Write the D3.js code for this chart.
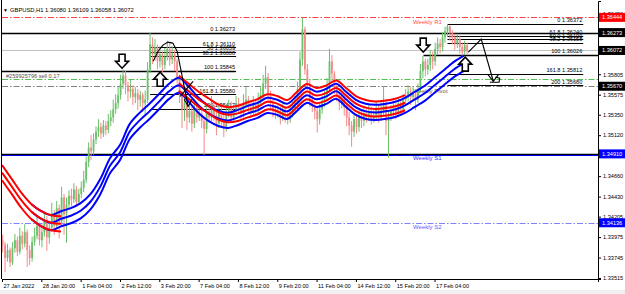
<!DOCTYPE html>
<html>
<head>
<meta charset="utf-8">
<script src="https://cdn.jsdelivr.net/npm/d3@7"></script>
<style>
  body { margin: 0; background: #fff; }
  svg text { font-family: "Liberation Sans", Arial, sans-serif; }
</style>
</head>
<body>
<svg id="chart" width="625" height="294"></svg>
<script>
// GBPUSD H1, drawn as 2-hour candles. Prices are pips above PIP_BASE.
const PIP_BASE = 1.3300;
const firstOpen = 94;
const closes = [
  89, 74, 83, 69, 85, 94, 81, 99, 90, 103,
  83, 74, 92, 99, 110, 94, 103, 117, 97, 108,
  124, 110, 130, 115, 142, 123, 134, 144, 140, 151,
  137, 146, 153, 162, 182, 198, 194, 207, 216, 221,
  214, 223, 218, 228, 232, 241, 248, 257, 270, 279,
  268, 261, 264, 255, 259, 252, 257, 248, 252, 286,
  314, 303, 311, 295, 303, 291, 300, 309, 297, 303,
  295, 277, 257, 241, 248, 232, 239, 225, 243, 232,
  236, 228, 219, 239, 232, 246, 234, 225, 239, 230,
  221, 237, 243, 232, 239, 248, 241, 237, 246, 252,
  243, 239, 248, 241, 250, 257, 270, 277, 257, 248,
  241, 237, 239, 232, 241, 234, 230, 237, 241, 246,
  264, 297, 331, 286, 269, 252, 246, 239, 230, 241,
  248, 255, 264, 295, 281, 266, 257, 248, 252, 243,
  232, 223, 216, 230, 221, 234, 228, 237, 232, 239,
  230, 234, 241, 232, 239, 248, 228, 234, 239, 243,
  237, 248, 241, 252, 257, 261, 255, 259, 252, 264,
  284, 295, 286, 291, 300, 295, 309, 315, 311, 322,
  329, 334, 327, 322, 315, 320, 311, 306, 313, 307
];
const highs = [
  100, 92, 90, 86, 92, 101, 98, 108, 104, 112,
  106, 88, 98, 108, 122, 114, 112, 126, 121, 116,
  136, 128, 138, 134, 154, 146, 142, 150, 152, 158,
  155, 152, 160, 172, 188, 204, 212, 214, 222, 230,
  226, 229, 228, 236, 240, 252, 258, 266, 280, 286,
  284, 272, 274, 268, 266, 264, 262, 260, 262, 294,
  327, 322, 320, 314, 312, 306, 310, 318, 316, 312,
  308, 298, 280, 262, 256, 252, 250, 244, 252, 248,
  246, 242, 234, 246, 244, 256, 250, 238, 248, 244,
  236, 246, 252, 250, 246, 256, 254, 248, 258, 266,
  256, 250, 256, 252, 260, 266, 280, 290, 282, 262,
  254, 246, 246, 244, 248, 244, 240, 244, 250, 256,
  272, 306, 344, 334, 292, 274, 258, 250, 244, 248,
  256, 262, 276, 309, 302, 284, 270, 262, 258, 256,
  248, 238, 228, 236, 236, 240, 240, 244, 242, 246,
  244, 240, 250, 246, 250, 267, 252, 240, 246, 250,
  248, 254, 252, 258, 264, 268, 266, 266, 262, 270,
  292, 301, 298, 298, 308, 306, 316, 322, 320, 328,
  334, 337, 336, 330, 326, 326, 324, 316, 318, 316
];
const lows = [
  80, 58, 70, 64, 66, 80, 76, 78, 84, 86,
  64, 66, 70, 88, 95, 88, 86, 98, 82, 90,
  104, 100, 106, 96, 110, 100, 91, 128, 132, 136,
  132, 134, 141, 148, 158, 176, 184, 190, 202, 210,
  208, 210, 212, 214, 222, 226, 236, 242, 252, 264,
  258, 250, 254, 246, 248, 240, 244, 238, 236, 248,
  282, 292, 296, 286, 288, 282, 286, 296, 290, 292,
  284, 270, 248, 220, 228, 218, 226, 216, 220, 226,
  228, 220, 190, 214, 226, 228, 228, 212, 220, 222,
  210, 216, 232, 226, 226, 234, 236, 230, 232, 242,
  236, 232, 234, 234, 236, 246, 252, 264, 250, 240,
  232, 230, 232, 224, 228, 226, 224, 226, 232, 236,
  240, 258, 290, 280, 262, 244, 238, 230, 215, 224,
  236, 244, 250, 260, 272, 258, 250, 240, 242, 234,
  222, 212, 199, 210, 214, 216, 220, 222, 226, 228,
  224, 226, 230, 226, 228, 234, 212, 187, 228, 232,
  230, 232, 234, 236, 246, 250, 246, 250, 240, 248,
  260, 276, 278, 280, 284, 286, 290, 302, 304, 306,
  316, 322, 318, 314, 308, 310, 304, 300, 302, 303
];

// envelope indicator: middle line, one sample every 8 H1 bars (null = hidden)
const bandStep = 8;
const redMid = [
  169.9, 154.2, 138.4, 126.0, 118.1, 113.6, 112.4, null, null, null,
  null, null, null, null, null, null, null, null, 270.3, 261.3,
  252.3, 245.0, 238.0, 235.0, 236.5, 240.5, 244.0, 249.5, 247.5, 243.0,
  252.0, 261.0, 256.5, 259.5, 265.0, 256.5, 247.5, 243.0, 241.5, 242.5,
  244.5, 248.5, null, null, null, null, null, null
];
const blueMid = [
  null, null, null, 126.0, 118.1, 113.6, 118.1, 121.5, 127.1, 137.2,
  154.2, 177.9, 192.5, 216.2, 228.6, 238.8, 250.0, 261.3, 268.1, 257.9,
  245.5, 236.5, 230.9, 228.6, 232.0, 236.5, 239.9, 245.5, 243.3, 238.8,
  247.8, 256.8, 252.3, 255.7, 261.3, 252.3, 243.3, 238.8, 237.6, 238.8,
  241.0, 245.5, 252.3, 259.1, 268.1, 277.1, 286.1, 292.9
];
const envelopePips = [-8.5, 0, 8.5];

const priceTicks = [1.33515, 1.33745, 1.33975, 1.34205, 1.34430, 1.34660, 1.34890,
  1.35120, 1.35350, 1.35575, 1.35805, 1.36035, 1.36265, 1.36490];
const timeTickBars = [0, 32, 64, 96, 128, 160, 192, 224, 256, 288, 320, 352];
const timeLabels = ["27 Jan 2022", "28 Jan 20:00", "1 Feb 04:00", "2 Feb 12:00", "3 Feb 20:00",
  "7 Feb 04:00", "8 Feb 12:00", "9 Feb 20:00", "11 Feb 04:00", "14 Feb 12:00",
  "15 Feb 20:00", "17 Feb 04:00"];

// horizontal objects: [price, fromBar, toBar(null = right edge), colour, dash, width]
const hLines = [
  [1.36444, 0, null, "#ff4040", "6,2,1.5,2", 1],
  [1.36273, 0, null, "#000", null, 1.3],
  [1.36072, 0, null, "#c0c0c0", null, 1],
  [1.35750, 0, null, "#50c050", "6,2,1.5,2", 1],
  [1.35670, 0, null, "#808080", "6,2,1.5,2", 1],
  [1.35845, 0, 190, "#000", null, 1.3],
  [1.36026, 343, null, "#000", null, 1.3],
  [1.34910, 0, null, "#000", null, 1.3],
  [1.34899, 0, null, "#0000ff", null, 1],
  [1.34136, 0, null, "#8080ff", "6,2,1.5,2", 1]
];
const pivotNames = ["Weekly R1", "Weekly Pivot", "Weekly S1", "Weekly S2"];
const pivotPrices = [1.36444, 1.35670, 1.34910, 1.34136];
const pivotColors = ["#ff5050", "#606060", "#3030ff", "#6060ff"];

const fibLeftBars = [120.5, 190.5];
const fibLeftNames = ["0", "61.8", "50", "38.2", "100", "161.8", "200"];
const fibLeftPrices = [1.36273, 1.36110, 1.36059, 1.36008, 1.35845, 1.35580, 1.35417];
const fibRightBars = [362.5, 473];
const fibRightNames = ["0", "61.8", "50.0", "38.2", "100", "161.8", "200"];
const fibRightPrices = [1.36372, 1.36240, 1.36199, 1.36158, 1.36026, 1.35812, 1.35680];

// price tags on the axis: [price, background]
const axisTags = [
  [1.36444, "#ff0000"], [1.36273, "#000"], [1.36072, "#000"],
  [1.35670, "#000"], [1.34910, "#0000ff"], [1.34136, "#0000ff"]
];

// hollow arrows: [direction, bar, tip price]
const arrows = [
  ["down", 97.7, 1.35873], ["up", 128.7, 1.35828],
  ["down", 342.8, 1.36053], ["up", 377, 1.35997]
];

// freehand sketches: lists of [bar, price]
const sketches = [
  [[123, 1.35952], [127, 1.36064], [131, 1.36132], [135, 1.36166], [139, 1.36155],
   [142.5, 1.36064], [145.8, 1.35839], [149, 1.35613], [151.5, 1.35444]],
  [[148.2, 1.35523], [151.5, 1.35444], [154.7, 1.35523]],
  [[145, 1.35557], [155.5, 1.35726]],
  [[379.5, 1.36053], [390, 1.36200], [399.8, 1.35726]],
  [[395.5, 1.35800], [399.8, 1.35726], [404, 1.35800]],
  [[397, 1.35715], [404.5, 1.35715], [405, 1.35760], [401.5, 1.35775]]
];

const title = "GBPUSD,H1  1.36080 1.36109 1.36058 1.36072";
const orderText = "#259925796 sell 0.17";
const orderPrice = 1.35750;

// ---------------------------------------------------------------
const svg = d3.select("#chart");
const plot = { left: 2, right: 598, top: 1, bottom: 279 };
const x = d3.scaleLinear().domain([0, 485]).range([plot.left, plot.right]);
const y = d3.scaleLinear().domain([1.33504, 1.36628]).range([plot.bottom, plot.top]);
const toPrice = p => PIP_BASE + p / 10000;

svg.append("rect").attr("width", 625).attr("height", 294).attr("fill", "#fff");
svg.append("rect").attr("x", 0).attr("y", 290).attr("width", 625).attr("height", 4).attr("fill", "#f0f0f0");

svg.append("clipPath").attr("id", "clip").append("rect")
  .attr("x", plot.left).attr("y", plot.top)
  .attr("width", plot.right - plot.left).attr("height", plot.bottom - plot.top);
const g = svg.append("g").attr("clip-path", "url(#clip)");

// horizontal lines
g.selectAll("line.h").data(hLines).enter().append("line")
  .attr("x1", d => x(d[1]))
  .attr("x2", d => d[2] === null ? plot.right : x(d[2]))
  .attr("y1", d => Math.round(y(d[0])) + 0.5)
  .attr("y2", d => Math.round(y(d[0])) + 0.5)
  .attr("stroke", d => d[3])
  .attr("stroke-width", d => d[5])
  .attr("stroke-dasharray", d => d[4]);

// fibonacci levels
function drawFib(bars, names, prices) {
  const lv = prices.map((p, i) => ({ p, n: names[i] }));
  g.selectAll(null).data(lv).enter().append("line")
    .attr("x1", x(bars[0])).attr("x2", x(bars[1]))
    .attr("y1", d => Math.round(y(d.p)) + 0.5).attr("y2", d => Math.round(y(d.p)) + 0.5)
    .attr("stroke", "#000").attr("stroke-width", 1.2);
  g.selectAll(null).data(lv).enter().append("text")
    .attr("x", x(bars[1]) - 1).attr("y", d => y(d.p) - 1.5)
    .attr("text-anchor", "end").attr("font-size", 5.6).attr("fill", "#000")
    .text(d => d.n + "  " + d.p.toFixed(5));
}
drawFib(fibLeftBars, fibLeftNames, fibLeftPrices);
drawFib(fibRightBars, fibRightNames, fibRightPrices);

// pivot labels
g.selectAll("text.piv").data(pivotNames).enter().append("text")
  .attr("x", 413).attr("y", (d, i) => y(pivotPrices[i]) + 6.5)
  .attr("font-size", 6).attr("fill", (d, i) => pivotColors[i]).text(d => d);

g.append("text").attr("x", 6).attr("y", y(orderPrice) - 1.5)
  .attr("font-size", 5.6).attr("fill", "#505050").text(orderText);

// candles
const candles = closes.map((c, j) => ({
  bar: 2 * j + 0.5,
  o: toPrice(j === 0 ? firstOpen : closes[j - 1]),
  c: toPrice(c), h: toPrice(highs[j]), l: toPrice(lows[j])
}));
const upCol = "#6cbf6c", dnCol = "#f48a8a";
const cg = g.append("g");
cg.selectAll("line").data(candles).enter().append("line")
  .attr("x1", d => x(d.bar)).attr("x2", d => x(d.bar))
  .attr("y1", d => y(d.h)).attr("y2", d => y(d.l))
  .attr("stroke", d => d.c >= d.o ? upCol : dnCol).attr("stroke-width", 1);
cg.selectAll("rect").data(candles).enter().append("rect")
  .attr("x", d => x(d.bar) - 0.9).attr("width", 1.8)
  .attr("y", d => y(Math.max(d.o, d.c)))
  .attr("height", d => Math.max(0.8, Math.abs(y(d.o) - y(d.c))))
  .attr("fill", d => d.c >= d.o ? upCol : dnCol);

// envelope bands
function drawBand(mid, colour) {
  envelopePips.forEach(off => {
    const line = d3.line()
      .defined(d => d !== null)
      .x((d, k) => x(k * bandStep))
      .y(d => y(toPrice(d + off)))
      .curve(d3.curveCatmullRom);
    g.append("path").attr("d", line(mid))
      .attr("fill", "none").attr("stroke", colour).attr("stroke-width", 2);
  });
}
drawBand(blueMid, "#0000ff");
drawBand(redMid, "#ff0000");

// sketches
const sk = d3.line().x(d => x(d[0])).y(d => y(d[1]));
g.selectAll("path.sk").data(sketches).enter().append("path")
  .attr("d", sk).attr("fill", "none").attr("stroke", "#000").attr("stroke-width", 1.1);

// arrows
const downPath = "M-3,-14L3,-14L3,-7L6.5,-7L0,0L-6.5,-7L-3,-7Z";
const upPath = "M-3,14L3,14L3,7L6.5,7L0,0L-6.5,7L-3,7Z";
g.selectAll("path.arr").data(arrows).enter().append("path")
  .attr("transform", d => `translate(${x(d[1])},${y(d[2])})`)
  .attr("d", d => d[0] === "down" ? downPath : upPath)
  .attr("fill", "#fff").attr("stroke", "#000").attr("stroke-width", 1.6);

// frame
svg.append("line").attr("x1", 1.5).attr("x2", 1.5).attr("y1", 0).attr("y2", plot.bottom)
  .attr("stroke", "#000");

// price axis (ticks hidden under a price tag are skipped)
const shownTicks = priceTicks.filter(t => !axisTags.some(a => Math.abs(y(a[0]) - y(t)) < 3.5));
const ya = svg.append("g").attr("transform", `translate(${plot.right},0)`)
  .call(d3.axisRight(y).tickValues(shownTicks).tickFormat(d3.format(".5f")).tickSize(3).tickPadding(2));
ya.select(".domain").attr("stroke", "#000");
ya.selectAll("text").attr("font-size", 5.6).attr("fill", "#000");
ya.selectAll("line").attr("stroke", "#000");

const tags = svg.append("g");
tags.selectAll("rect").data(axisTags).enter().append("rect")
  .attr("x", plot.right + 1).attr("y", d => y(d[0]) - 4.5)
  .attr("width", 26).attr("height", 9).attr("fill", d => d[1]);
tags.selectAll("text").data(axisTags).enter().append("text")
  .attr("x", plot.right + 4).attr("y", d => y(d[0]) + 2)
  .attr("font-size", 5.6).attr("fill", "#fff").text(d => d[0].toFixed(5));

// time axis
const xa = svg.append("g").attr("transform", `translate(0,${plot.bottom})`)
  .call(d3.axisBottom(x).tickValues(timeTickBars).tickFormat((d, i) => timeLabels[i]).tickSize(3).tickPadding(2));
xa.select(".domain").attr("stroke", "#000");
xa.selectAll("line").attr("stroke", "#000");
xa.selectAll("text").attr("font-size", 5.6).attr("fill", "#000")
  .attr("text-anchor", "start").attr("dx", 1);

// title
svg.append("text").attr("x", 3).attr("y", 12).attr("font-size", 5).text("\u25BC");
svg.append("text").attr("x", 10).attr("y", 12).attr("font-size", 5.8).attr("fill", "#000").text(title);
</script>
</body>
</html>
